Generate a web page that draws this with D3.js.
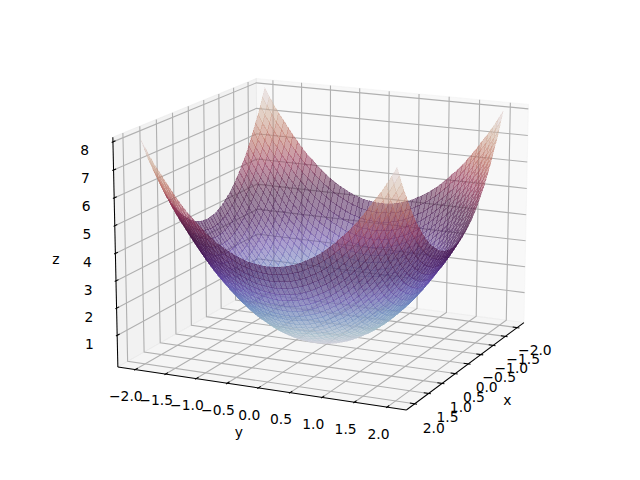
<!DOCTYPE html>
<html>
<head>
<meta charset="utf-8">
<script src="https://d3js.org/d3.v7.min.js"></script>
<style>
  body { margin: 0; background: #fff; }
  text { font-family: "DejaVu Sans"; font-size: 13.89px; fill: #000; }
</style>
</head>
<body>
<div id="chart"></div>
<script>
var xValues = [-2,-1.92,-1.84,-1.76,-1.67,-1.59,-1.51,-1.43,-1.35,-1.27,-1.18,-1.1,-1.02,-.94,-.86,-.78,-.69,-.61,-.53,-.45,-.37,-.29,-.2,-.12,-.04,
               .04,.12,.2,.29,.37,.45,.53,.61,.69,.78,.86,.94,1.02,1.1,1.18,1.27,1.35,1.43,1.51,1.59,1.67,1.76,1.84,1.92,2];
var yValues = xValues.slice();

// one quadrant of the bowl, the surface is symmetric in x and y
var zQuadrant = [
  [8.00,7.68,7.37,7.08,6.80,6.53,6.28,6.04,5.81,5.60,5.40,5.21,5.04,4.88,4.74,4.60,4.48,4.38,4.28,4.20,4.14,4.08,4.04,4.02,4.00],
  [7.68,7.36,7.05,6.76,6.48,6.21,5.96,5.72,5.49,5.28,5.08,4.89,4.72,4.56,4.42,4.28,4.16,4.06,3.96,3.88,3.82,3.76,3.72,3.70,3.68],
  [7.37,7.05,6.74,6.45,6.17,5.90,5.65,5.41,5.18,4.97,4.77,4.58,4.41,4.25,4.11,3.97,3.85,3.75,3.65,3.57,3.51,3.45,3.41,3.39,3.37],
  [7.08,6.76,6.45,6.16,5.88,5.61,5.36,5.12,4.89,4.68,4.48,4.29,4.12,3.96,3.82,3.68,3.56,3.46,3.36,3.28,3.22,3.16,3.12,3.10,3.08],
  [6.80,6.48,6.17,5.88,5.60,5.33,5.08,4.84,4.61,4.40,4.20,4.01,3.84,3.68,3.54,3.40,3.28,3.18,3.08,3.00,2.94,2.88,2.84,2.82,2.80],
  [6.53,6.21,5.90,5.61,5.33,5.06,4.81,4.57,4.34,4.13,3.93,3.74,3.57,3.41,3.27,3.13,3.01,2.91,2.81,2.73,2.67,2.61,2.57,2.55,2.53],
  [6.28,5.96,5.65,5.36,5.08,4.81,4.56,4.32,4.09,3.88,3.68,3.49,3.32,3.16,3.02,2.88,2.76,2.66,2.56,2.48,2.42,2.36,2.32,2.30,2.28],
  [6.04,5.72,5.41,5.12,4.84,4.57,4.32,4.08,3.85,3.64,3.44,3.25,3.08,2.92,2.78,2.64,2.52,2.42,2.32,2.24,2.18,2.12,2.08,2.06,2.04],
  [5.81,5.49,5.18,4.89,4.61,4.34,4.09,3.85,3.62,3.41,3.21,3.02,2.85,2.69,2.55,2.41,2.29,2.19,2.09,2.01,1.95,1.89,1.85,1.83,1.81],
  [5.60,5.28,4.97,4.68,4.40,4.13,3.88,3.64,3.41,3.20,3.00,2.81,2.64,2.48,2.34,2.20,2.08,1.98,1.88,1.80,1.74,1.68,1.64,1.62,1.60],
  [5.40,5.08,4.77,4.48,4.20,3.93,3.68,3.44,3.21,3.00,2.80,2.61,2.44,2.28,2.14,2.00,1.88,1.78,1.68,1.60,1.54,1.48,1.44,1.42,1.40],
  [5.21,4.89,4.58,4.29,4.01,3.74,3.49,3.25,3.02,2.81,2.61,2.42,2.25,2.09,1.95,1.81,1.69,1.59,1.49,1.41,1.35,1.29,1.25,1.23,1.21],
  [5.04,4.72,4.41,4.12,3.84,3.57,3.32,3.08,2.85,2.64,2.44,2.25,2.08,1.92,1.78,1.64,1.52,1.42,1.32,1.24,1.18,1.12,1.08,1.06,1.04],
  [4.88,4.56,4.25,3.96,3.68,3.41,3.16,2.92,2.69,2.48,2.28,2.09,1.92,1.76,1.62,1.48,1.36,1.26,1.16,1.08,1.02,.96,.92,.90,.88],
  [4.74,4.42,4.11,3.82,3.54,3.27,3.02,2.78,2.55,2.34,2.14,1.95,1.78,1.62,1.48,1.34,1.22,1.12,1.02,.94,.88,.82,.78,.76,.74],
  [4.60,4.28,3.97,3.68,3.40,3.13,2.88,2.64,2.41,2.20,2.00,1.81,1.64,1.48,1.34,1.20,1.08,.98,.88,.80,.74,.68,.64,.62,.60],
  [4.48,4.16,3.85,3.56,3.28,3.01,2.76,2.52,2.29,2.08,1.88,1.69,1.52,1.36,1.22,1.08,.96,.86,.76,.68,.62,.56,.52,.50,.48],
  [4.38,4.06,3.75,3.46,3.18,2.91,2.66,2.42,2.19,1.98,1.78,1.59,1.42,1.26,1.12,.98,.86,.76,.66,.58,.52,.46,.42,.40,.38],
  [4.28,3.96,3.65,3.36,3.08,2.81,2.56,2.32,2.09,1.88,1.68,1.49,1.32,1.16,1.02,.88,.76,.66,.56,.48,.42,.36,.32,.30,.28],
  [4.20,3.88,3.57,3.28,3.00,2.73,2.48,2.24,2.01,1.80,1.60,1.41,1.24,1.08,.94,.80,.68,.58,.48,.40,.34,.28,.24,.22,.20],
  [4.14,3.82,3.51,3.22,2.94,2.67,2.42,2.18,1.95,1.74,1.54,1.35,1.18,1.02,.88,.74,.62,.52,.42,.34,.28,.22,.18,.16,.14],
  [4.08,3.76,3.45,3.16,2.88,2.61,2.36,2.12,1.89,1.68,1.48,1.29,1.12,.96,.82,.68,.56,.46,.36,.28,.22,.16,.12,.10,.08],
  [4.04,3.72,3.41,3.12,2.84,2.57,2.32,2.08,1.85,1.64,1.44,1.25,1.08,.92,.78,.64,.52,.42,.32,.24,.18,.12,.08,.06,.04],
  [4.02,3.70,3.39,3.10,2.82,2.55,2.30,2.06,1.83,1.62,1.42,1.23,1.06,.90,.76,.62,.50,.40,.30,.22,.16,.10,.06,.04,.02],
  [4.00,3.68,3.37,3.08,2.80,2.53,2.28,2.04,1.81,1.60,1.40,1.21,1.04,.88,.74,.60,.48,.38,.28,.20,.14,.08,.04,.02,.00]
];

var xTicks = [-2,-1.5,-1,-.5,0,.5,1,1.5,2];
var yTicks = xTicks.slice();
var zTicks = [1,2,3,4,5,6,7,8];
var twilight = ["#e2d9e2","#9ebbc9","#6785be","#5e43a5","#421257","#471340","#8e2c50","#ba6657","#ceac94","#e2d9e2"];

var width = 640, height = 480;
var elev = 15, azim = 25, dist = 10;
var surfaceAlpha = 0.5, meshAlpha = 0.2;

// mirror the quadrant out to the whole grid
var zRows = zQuadrant.map(function(r) { return r.concat(r.slice().reverse()); });
var zGrid = zRows.concat(zRows.slice().reverse());

var xLim = [-2.2, 2.2], yLim = [-2.2, 2.2], zLim = [0, 8];
var box = [4, 4, 3].map(function(d) { return d * 1.8294640721620434 / Math.sqrt(41); });

var toBox = [
  d3.scaleLinear().domain(xLim).range([-box[0] / 2, box[0] / 2]),
  d3.scaleLinear().domain(yLim).range([-box[1] / 2, box[1] / 2]),
  d3.scaleLinear().domain(zLim).range([-box[2] / 2, box[2] / 2])
];
// same canvas mapping as a square 3d axes filling the figure height
var xPx = d3.scaleLinear().domain([-0.095, 0.09]).range([(width - height) / 2, (width + height) / 2]);
var yPx = d3.scaleLinear().domain([-0.095, 0.09]).range([height, 0]);

function cross(a, b) { return [a[1]*b[2]-a[2]*b[1], a[2]*b[0]-a[0]*b[2], a[0]*b[1]-a[1]*b[0]]; }
function dot(a, b) { return a[0]*b[0]+a[1]*b[1]+a[2]*b[2]; }
function unit(a) { var l = Math.sqrt(dot(a, a)); return a.map(function(d) { return d / l; }); }

var el = elev * Math.PI / 180, az = azim * Math.PI / 180;
var n = [Math.cos(el)*Math.cos(az), Math.cos(el)*Math.sin(az), Math.sin(el)];
var u = unit(cross([0, 0, 1], n));
var v = cross(n, u);

function project(p) {
  var c = [toBox[0](p[0]), toBox[1](p[1]), toBox[2](p[2])];
  var w = dist - dot(c, n);
  return { x: xPx(dot(c, u) / w), y: yPx(dot(c, v) / w), depth: dot(c, n) };
}

var svg = d3.select("#chart").append("svg").attr("width", width).attr("height", height);
var line3d = d3.line().x(function(p) { return project(p).x; }).y(function(p) { return project(p).y; });

// limits grown the way the 3d panes are
var lims = [xLim, yLim, zLim];
var deltas = lims.map(function(l) { return (l[1] - l[0]) / 12; });
var lo = lims.map(function(l, i) { return l[0] - deltas[i] / 4; });
var hi = lims.map(function(l, i) { return l[1] + deltas[i] / 4; });
var center = lims.map(function(l) { return (l[0] + l[1]) / 2; });

var panes = [
  { color: "rgb(242,242,242)", pts: [[lo[0],lo[1],lo[2]],[lo[0],hi[1],lo[2]],[lo[0],hi[1],hi[2]],[lo[0],lo[1],hi[2]]] },
  { color: "rgb(230,230,230)", pts: [[lo[0],lo[1],lo[2]],[hi[0],lo[1],lo[2]],[hi[0],lo[1],hi[2]],[lo[0],lo[1],hi[2]]] },
  { color: "rgb(236,236,236)", pts: [[lo[0],lo[1],lo[2]],[hi[0],lo[1],lo[2]],[hi[0],hi[1],lo[2]],[lo[0],hi[1],lo[2]]] }
];
svg.append("g").selectAll("path").data(panes).enter().append("path")
  .attr("d", function(d) { return line3d(d.pts) + "Z"; })
  .style("fill", function(d) { return d.color; })
  .style("fill-opacity", 0.5)
  .style("stroke", function(d) { return d.color; })
  .style("stroke-opacity", 0.5);

var gridLines = []
  .concat(xTicks.map(function(t) { return [[t,hi[1],lo[2]],[t,lo[1],lo[2]],[t,lo[1],hi[2]]]; }))
  .concat(yTicks.map(function(t) { return [[hi[0],t,lo[2]],[lo[0],t,lo[2]],[lo[0],t,hi[2]]]; }))
  .concat(zTicks.map(function(t) { return [[hi[0],lo[1],t],[lo[0],lo[1],t],[lo[0],hi[1],t]]; }));
svg.append("g").selectAll("path").data(gridLines).enter().append("path")
  .attr("d", line3d)
  .style("fill", "none")
  .style("stroke", "rgb(176,176,176)")
  .style("stroke-width", 1.11);

var axisLines = [
  [[lo[0],hi[1],lo[2]],[hi[0],hi[1],lo[2]]],
  [[hi[0],lo[1],lo[2]],[hi[0],hi[1],lo[2]]],
  [[hi[0],lo[1],lo[2]],[hi[0],lo[1],hi[2]]]
];
svg.append("g").selectAll("path").data(axisLines).enter().append("path")
  .attr("d", line3d)
  .style("stroke", "#000")
  .style("stroke-width", 1.04);

// index = axis the ticks sit on, dir = direction the tick mark points, edge = fixed corner
var axes3d = [
  { ticks: xTicks, index: 0, dir: 1, edge: [0, hi[1], lo[2]], label: "x" },
  { ticks: yTicks, index: 1, dir: 0, edge: [hi[0], 0, lo[2]], label: "y" },
  { ticks: zTicks, index: 2, dir: 0, edge: [hi[0], lo[1], 0], label: "z" }
];
var tickFactor = 0.8, labelFactor = 1.7, tickLabelDrop = 6;

function moveOut(pos, index, factor) {
  return pos.map(function(d, i) {
    if (i === index) return d;
    return d + (d >= center[i] ? 1 : -1) * factor * deltas[i];
  });
}
function fmt(t, index) {
  var s = index === 2 ? String(t) : t.toFixed(1);
  return s.replace("-", "\u2212");
}

axes3d.forEach(function(a) {
  var g = svg.append("g");
  var sign = a.edge[a.dir] >= center[a.dir] ? 1 : -1;
  a.ticks.forEach(function(t) {
    var p1 = a.edge.slice(), p2 = a.edge.slice(), lab = a.edge.slice();
    p1[a.index] = p2[a.index] = lab[a.index] = t;
    p1[a.dir] += 0.1 * sign * deltas[a.dir];
    p2[a.dir] -= 0.2 * sign * deltas[a.dir];
    g.append("path").attr("d", line3d([p1, p2]))
      .style("stroke", "#000").style("stroke-width", 1.04);
    var pos = project(moveOut(lab, a.index, tickFactor));
    g.append("text").attr("x", pos.x).attr("y", pos.y + tickLabelDrop)
      .attr("text-anchor", "middle").attr("dominant-baseline", "central")
      .text(fmt(t, a.index));
  });
  var mid = a.edge.slice();
  mid[a.index] = center[a.index];
  var lp = project(moveOut(mid, a.index, labelFactor));
  g.append("text").attr("x", lp.x).attr("y", lp.y)
    .attr("text-anchor", "middle").attr("dominant-baseline", "central")
    .text(a.label);
});

// the surface, faces painted back to front
var colorScale = d3.scaleLinear()
  .domain(twilight.map(function(d, i) { return i / (twilight.length - 1); }))
  .range(twilight);
var zNorm = d3.scaleLinear().domain(d3.extent(d3.merge(zGrid))).range([0, 1]);

var faces = [];
d3.range(xValues.length - 1).forEach(function(i) {
  d3.range(yValues.length - 1).forEach(function(j) {
    var pts = [[i,j],[i+1,j],[i+1,j+1],[i,j+1]].map(function(k) {
      return [xValues[k[0]], yValues[k[1]], zGrid[k[0]][k[1]]];
    });
    faces.push({
      pts: pts,
      depth: d3.mean(pts, function(p) { return project(p).depth; }),
      z: d3.mean(pts, function(p) { return p[2]; })
    });
  });
});
faces.sort(function(a, b) { return a.depth - b.depth; });

// faces are not antialiased, the overlap of their edges gives the dark mesh
svg.append("g").selectAll("path").data(faces).enter().append("path")
  .attr("d", function(d) { return line3d(d.pts) + "Z"; })
  .style("shape-rendering", "crispEdges")
  .style("fill", function(d) { return colorScale(zNorm(d.z)); })
  .style("fill-opacity", surfaceAlpha)
  .style("stroke", function(d) { return colorScale(zNorm(d.z)); })
  .style("stroke-opacity", meshAlpha)
  .style("stroke-width", 1);
</script>
</body>
</html>
